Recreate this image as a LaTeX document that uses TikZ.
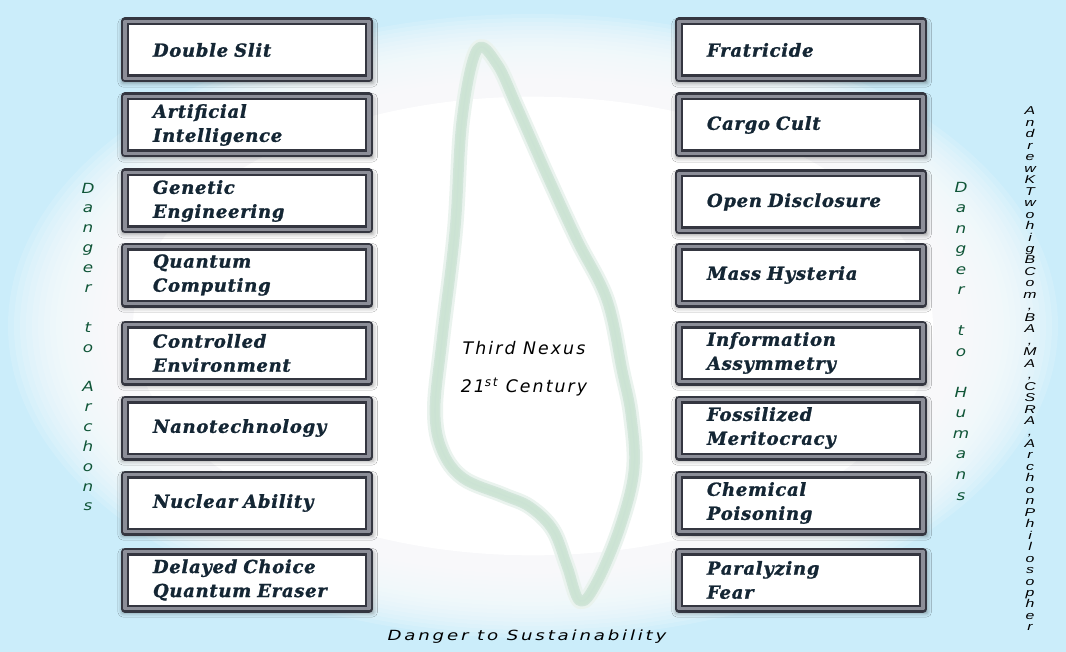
\documentclass[tikz,border=0pt]{standalone}
\usepackage{fontspec}
\setmainfont{DejaVu Serif}
\setsansfont{DejaVu Sans}
\newfontfamily\rowfont[LetterSpace=4, BoldItalicFeatures={FakeBold=1.2}]{DejaVu Serif}
\newfontfamily\nexusfont[LetterSpace=12]{DejaVu Sans}
\newfontfamily\sustfont[LetterSpace=20, FakeStretch=1.3]{DejaVu Sans}
\newfontfamily\stackfont[FakeStretch=1.2]{DejaVu Sans}
\newfontfamily\signfont[FakeStretch=1.4]{Liberation Sans}
\usetikzlibrary{shadows.blur}

\definecolor{speck}{RGB}{172,226,247}
\definecolor{framedark}{RGB}{52,54,64}
\definecolor{framemid}{RGB}{140,142,152}
\definecolor{rowink}{RGB}{20,38,52}
\definecolor{blobline}{RGB}{205,228,212}
\definecolor{blobedge}{RGB}{140,190,160}
\definecolor{dangergreen}{RGB}{15,85,55}

\tikzset{
  dangerbox/.style={draw=framedark, line width=1.8pt, double=framemid, double distance=2.4pt,
    fill=white, minimum width=183pt, minimum height=42.75pt, text width=141pt, inner xsep=21pt,
    align=left, text=rowink, font=\rowfont\bfseries\itshape\fontsize{13.5}{18}\selectfont,
    blur shadow={shadow xshift=0.5pt, shadow yshift=-2pt, shadow scale=1.02, shadow blur radius=4pt, shadow opacity=55}},
  stack/.style={align=center, inner sep=0pt},
}

\begin{document}
\begin{tikzpicture}[x=0.75pt,y=-0.75pt,line cap=round,line join=round]
  \useasboundingbox (0,0) rectangle (1066,652);
  % speckled paper fading to white in the middle
  \fill[speck!62!white] (0,0) rectangle (1066,652);
  \foreach \k in {0,...,19}
    \fill[white, opacity=0.14] (533,326) ellipse ({(525-6*\k)*0.75pt} and {(312-4*\k)*0.75pt});
  \fill[white] (533,326) ellipse (300pt and 172pt);

  % the nexus outline
  \foreach \w/\c in {12pt/blobedge!18, 8pt/blobedge!40, 5.5pt/blobline, 0.8pt/blobedge!45}
    \draw[line width=\w, color=\c] plot[smooth cycle, tension=0.6] coordinates {
      (477,50) (462,120) (455,230) (442,340) (435,410) (442,450) (463,478) (503,495)
      (530,507) (553,530) (567,566) (580,601) (597,582) (620,527) (634,470) (631,415)
      (622,370) (607,300) (577,240) (547,175) (517,107) (497,64)};
  \node (nexus) at (524,369) [align=center, font=\nexusfont\itshape\fontsize{13}{28.5}\selectfont]
    {Third Nexus\\21\textsuperscript{st} Century};

  % left column
  \foreach \y/\txt [count=\i] in {50/Double~Slit, 125/{Artificial\\Intelligence},
      201/{Genetic\\Engineering}, 275/{Quantum\\Computing}, 353/{Controlled\\Environment},
      428/Nanotechnology, 503/Nuclear~Ability, 580/{Delayed~Choice\\Quantum~Eraser}}
    \node[dangerbox] (arch\i) at (247,\y) {\txt};

  % right column
  \foreach \y/\txt [count=\i] in {50/Fratricide, 125/Cargo~Cult, 202/Open~Disclosure,
      275/Mass~Hysteria, 353/{Information\\Assymmetry}, 428/{Fossilized\\Meritocracy},
      503/{Chemical\\Poisoning}, 580/{Paralyzing\\Fear}}
    \node[dangerbox] (hum\i) at (801,\y) {\txt};

  \node[stack, text=dangergreen, font=\stackfont\itshape\fontsize{10.5}{14.9}\selectfont] (archons) at (88,347)
    {D\\a\\n\\g\\e\\r\\\mbox{}\\t\\o\\\mbox{}\\A\\r\\c\\h\\o\\n\\s};
  \node[stack, text=dangergreen, font=\stackfont\itshape\fontsize{10.5}{15.4}\selectfont] (humans) at (961,341)
    {D\\a\\n\\g\\e\\r\\\mbox{}\\t\\o\\\mbox{}\\H\\u\\m\\a\\n\\s};
  \node[stack, font=\signfont\itshape\fontsize{8.5}{8.6}\selectfont] (author) at (1030,369)
    {A\\n\\d\\r\\e\\w\\K\\T\\w\\o\\h\\i\\g\\B\\C\\o\\m\\,\\B\\A\\,\\M\\A\\,\\C\\S\\R\\A\\,\\A\\r\\c\\h\\o\\n\\P\\h\\i\\l\\o\\s\\o\\p\\h\\e\\r};
  \node (sustain) at (527,637) [font=\sustfont\itshape\fontsize{10.5}{12}\selectfont] {Danger to Sustainability};
\end{tikzpicture}
\end{document}
